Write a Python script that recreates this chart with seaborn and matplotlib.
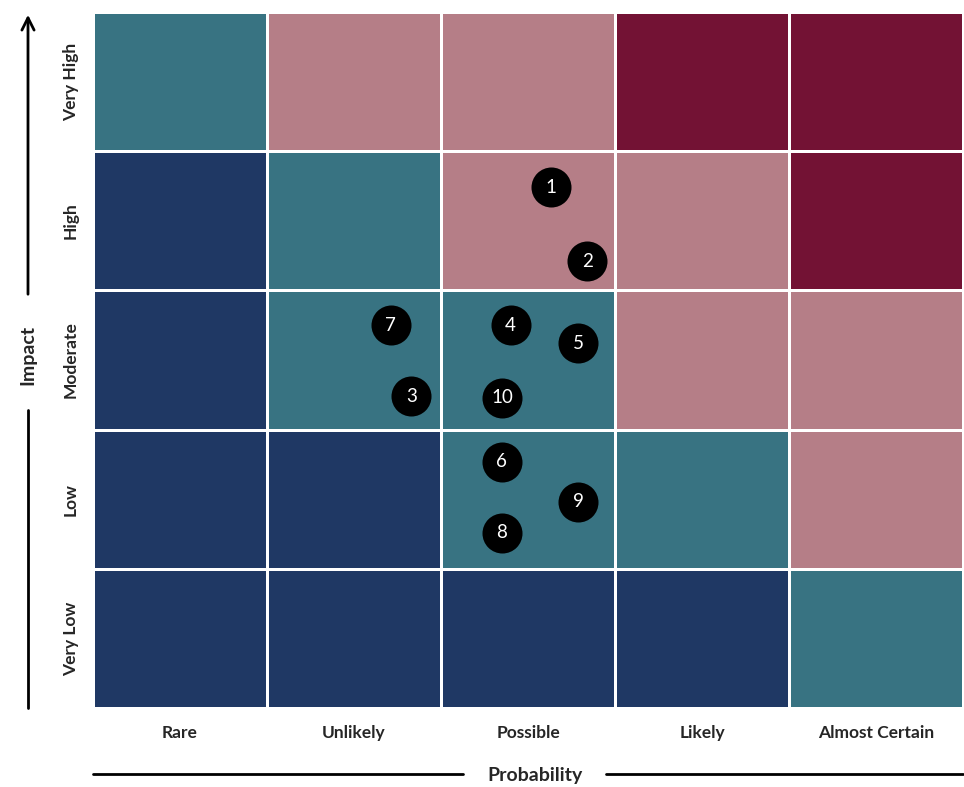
import numpy as np
import pandas as pd
import matplotlib
matplotlib.use("Agg")
import matplotlib.pyplot as plt
from matplotlib.colors import ListedColormap
import seaborn as sns

# categories
probability = ["Rare", "Unlikely", "Possible", "Likely", "Almost Certain"]
impact = ["Very High", "High", "Moderate", "Low", "Very Low"]

# risk level per cell (0=low, 1=medium, 2=high, 3=extreme), rows top->bottom
risk_levels = [
    [1, 2, 2, 3, 3],
    [0, 1, 2, 2, 3],
    [0, 1, 1, 2, 2],
    [0, 0, 1, 1, 2],
    [0, 0, 0, 0, 1],
]

# risks: probability score (0-5), impact score (0-5, bottom up)
risk_ids = ["1", "2", "3", "4", "5", "6", "7", "8", "9", "10"]
risk_prob = [2.63, 2.84, 1.83, 2.40, 2.79, 2.35, 1.71, 2.35, 2.79, 2.35]
risk_impact = [3.74, 3.21, 2.24, 2.75, 2.62, 1.77, 2.75, 1.26, 1.48, 2.23]

colors = ["#1F3864", "#387382", "#B57E87", "#731234"]

sns.set_theme(style="white")
plt.rcParams["font.family"] = ["Lato", "DejaVu Sans"]

df = pd.DataFrame(risk_levels, index=impact, columns=probability)

fig = plt.figure(figsize=(9.64, 7.87), dpi=100)
ax = fig.add_axes([93 / 964, 1 - 708 / 787, 870 / 964, 696 / 787])
sns.heatmap(df, cmap=ListedColormap(colors), vmin=-0.5, vmax=3.5, cbar=False,
            linewidths=1, linecolor="white", ax=ax)

ys = [5 - v for v in risk_impact]
ax.scatter(risk_prob, ys, s=830, color="black", zorder=3, linewidths=0)
for rid, x, y in zip(risk_ids, risk_prob, ys):
    ax.text(x, y, rid, color="white", fontsize=13.5, ha="center", va="center",
            zorder=4)

ax.tick_params(axis="both", length=0)
ax.tick_params(axis="x", pad=12)
ax.tick_params(axis="y", pad=10)
ax.set_xticklabels(probability, fontsize=12.5, fontweight="bold", rotation=0)
ax.set_yticklabels(impact, fontsize=12.5, fontweight="bold", rotation=90, va="center")
ax.set_xlabel("")
ax.set_ylabel("")

# axis titles with lines
fig.text(535 / 964, 1 - 775 / 787, "Probability", fontsize=14, fontweight="bold",
         ha="center", va="center")
fig.text(28 / 964, 1 - 355 / 787, "Impact", fontsize=14, fontweight="bold",
         ha="center", va="center", rotation=90)

ly = 1 - 774 / 787
fig.add_artist(plt.Line2D([93 / 964, 463 / 964], [ly, ly], color="black", lw=2))
fig.add_artist(plt.Line2D([606 / 964, 963 / 964], [ly, ly], color="black", lw=2))
lx = 28 / 964
fig.add_artist(plt.Line2D([lx, lx], [1 - 708 / 787, 1 - 410 / 787], color="black", lw=2))
ax.annotate("", xy=(lx, 1 - 12 / 787), xytext=(lx, 1 - 297 / 787),
            xycoords="figure fraction", textcoords="figure fraction",
            arrowprops=dict(arrowstyle="->", color="black", lw=2, mutation_scale=22))

fig.savefig("out.png", dpi=100)
